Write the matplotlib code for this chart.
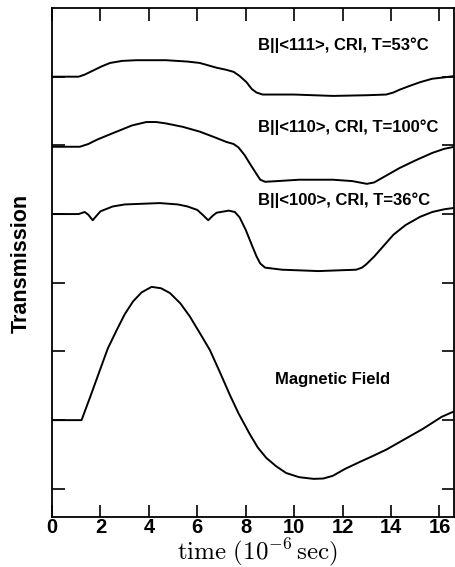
import matplotlib
matplotlib.use("Agg")
import matplotlib.pyplot as plt

plt.rcParams["font.family"] = ["Liberation Sans", "DejaVu Sans"]
plt.rcParams["mathtext.fontset"] = "cm"

# --- data (time in 1e-6 s, vertical in tick units) ---
t111 = [0, 1.1, 1.35, 1.7, 2.05, 2.4, 2.9, 3.5, 4.7, 5.6, 6.1, 6.5, 6.8, 7.2, 7.5, 7.75, 8.03,
        8.25, 8.44, 8.7, 10.0, 11.6, 13.0, 13.8, 14.1, 14.35, 14.8, 15.2, 15.7, 16.2, 16.62]
y111 = [6.0, 6.0, 6.03, 6.09, 6.15, 6.2, 6.23, 6.24, 6.24, 6.22, 6.2, 6.16, 6.13, 6.1, 6.07, 6.01, 5.92,
        5.82, 5.77, 5.74, 5.74, 5.72, 5.73, 5.74, 5.77, 5.81, 5.87, 5.92, 5.97, 5.99, 6.01]

t110 = [0, 1.15, 1.5, 1.84, 2.25, 2.67, 3.3, 3.9, 4.3, 4.7, 5.4, 6.1, 6.7, 7.2, 7.5, 7.7, 7.95, 8.16,
        8.45, 8.6, 8.8, 9.3, 10.2, 11.6, 12.4, 13.0, 13.3, 13.6, 14.0, 14.35, 15.0, 15.7, 16.2, 16.62]
y110 = [4.98, 4.98, 5.02, 5.08, 5.14, 5.2, 5.29, 5.34, 5.34, 5.32, 5.27, 5.2, 5.12, 5.05, 5.02, 4.97, 4.86, 4.74,
        4.58, 4.5, 4.47, 4.48, 4.5, 4.5, 4.48, 4.44, 4.46, 4.52, 4.6, 4.67, 4.78, 4.89, 4.95, 4.98]

t100 = [0, 1.1, 1.35, 1.5, 1.68, 1.85, 2.0, 2.5, 3.0, 4.45, 5.2, 5.6, 6.0, 6.25, 6.45, 6.65, 6.8, 7.3,
        7.55, 7.75, 8.0, 8.25, 8.45, 8.6, 8.8, 9.5, 11.0, 12.56, 12.8, 12.98, 13.3, 13.65, 14.1, 14.6,
        15.2, 15.7, 16.2, 16.62]
y100 = [4.0, 4.0, 4.03, 3.99, 3.91, 3.98, 4.04, 4.11, 4.14, 4.16, 4.14, 4.11, 4.06, 3.98, 3.91, 3.98, 4.02, 4.05,
        4.03, 3.95, 3.77, 3.55, 3.38, 3.28, 3.22, 3.19, 3.17, 3.19, 3.22, 3.27, 3.38, 3.52, 3.7, 3.84,
        3.96, 4.03, 4.07, 4.09]

tmag = [0, 1.22, 1.6, 1.98, 2.3, 2.67, 3.0, 3.35, 3.7, 4.11, 4.5, 4.87, 5.3, 5.69, 6.1, 6.52, 6.93,
        7.34, 7.7, 8.16, 8.5, 8.85, 9.25, 9.67, 10.2, 10.8, 11.2, 11.6, 12.1, 12.7, 13.2, 13.8, 14.3,
        14.9, 15.3, 15.7, 16.1, 16.62]
ymag = [1.0, 1.0, 1.36, 1.73, 2.04, 2.31, 2.54, 2.73, 2.86, 2.94, 2.92, 2.85, 2.7, 2.51, 2.27, 2.02, 1.7,
        1.37, 1.1, 0.8, 0.6, 0.45, 0.33, 0.23, 0.17, 0.145, 0.15, 0.19, 0.29, 0.39, 0.47, 0.57, 0.67,
        0.79, 0.87, 0.96, 1.05, 1.13]

labels = ["B||<111>, CRI, T=53\u00b0C", "B||<110>, CRI, T=100\u00b0C",
          "B||<100>, CRI, T=36\u00b0C", "Magnetic Field"]
xticks = [0, 2, 4, 6, 8, 10, 12, 14, 16]
yticks = [0, 1, 2, 3, 4, 5, 6]

fig = plt.figure(figsize=(4.55, 5.67), dpi=100)
ax = fig.add_axes([0.1143, 0.0882, 0.8846, 0.8977])

for t, y in [(t111, y111), (t110, y110), (t100, y100), (tmag, ymag)]:
    ax.plot(t, y, color="black", lw=1.4)

ax.text(8.5, 6.46, labels[0], ha="left", va="center", fontsize=12, fontweight="bold")
ax.text(8.5, 5.27, labels[1], ha="left", va="center", fontsize=12, fontweight="bold")
ax.text(8.5, 4.2, labels[2], ha="left", va="center", fontsize=12, fontweight="bold")
ax.text(11.59, 1.59, labels[3], ha="center", va="center", fontsize=12, fontweight="bold")

ax.set_xlim(0, 16.62)
ax.set_ylim(-0.41, 7.0)
ax.set_xticks(xticks)
ax.set_xticklabels([str(v) for v in xticks], fontsize=14.5, fontweight="bold")
ax.set_yticks(yticks)
ax.set_yticklabels([])
ax.tick_params(axis="both", direction="in", length=9, width=1.2,
               top=True, right=True, pad=0.5)
for s in ax.spines.values():
    s.set_linewidth(1.3)

fig.text(21.5 / 455, 1 - 263 / 567, "Transmission", rotation=90, ha="center", va="center",
         fontsize=15.5, fontweight="bold")
fig.text(257 / 455, 1 - 559 / 567, r"$\mathrm{time}\ (10^{-6}\,\mathrm{sec})$",
         ha="center", va="baseline", fontsize=18)

fig.savefig("out.png", dpi=100)
